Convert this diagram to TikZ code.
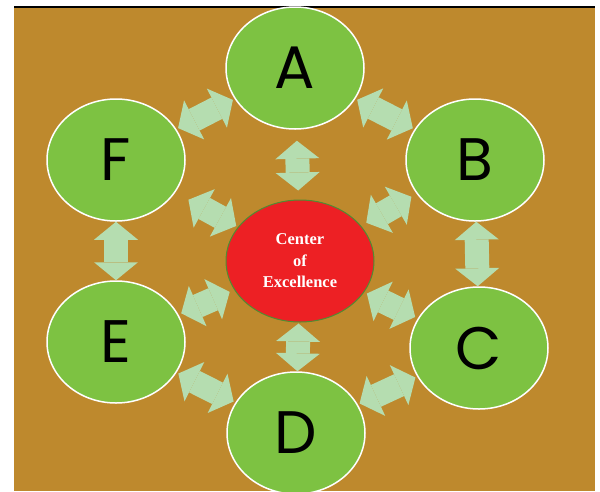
\documentclass[tikz,border=0pt]{standalone}
\usepackage{fontspec}
\setmainfont{Liberation Serif}
\newfontfamily\letterfont{Poppins}
\usetikzlibrary{shapes.geometric,arrows.meta}
\definecolor{bgbrown}{RGB}{190,137,45}
\definecolor{circgreen}{RGB}{125,194,66}
\definecolor{cred}{RGB}{237,32,36}
\definecolor{arrowgreen}{RGB}{181,221,176}
\definecolor{rimgreen}{RGB}{80,140,50}
\begin{document}
\begin{tikzpicture}[x=1pt,y=-1pt,
  outer/.style={ellipse, fill=circgreen, draw=white, line width=1.5pt,
    minimum width=138pt, minimum height=122pt, inner sep=0pt,
    font=\letterfont\fontsize{60}{60}\selectfont},
  core/.style={ellipse, fill=cred, draw=rimgreen, line width=1pt,
    minimum width=148pt, minimum height=122pt, inner sep=0pt,
    text=white, align=center, font=\bfseries\fontsize{16.5}{21.5}\selectfont},
  link/.style={draw=arrowgreen, line width=24pt,
    {Triangle[width=44pt,length=18pt,line width=0pt]}-{Triangle[width=44pt,length=18pt,line width=0pt]}}
]
\useasboundingbox (0,0) rectangle (600,491);
\clip (0,0) rectangle (600,491);
\fill[white] (0,0) rectangle (600,491);
\fill[bgbrown] (14,8) rectangle (595,491);
\draw[black, line width=2pt] (14,7) -- (595,7);

\node[outer] (A) at (295,68) {A};
\node[outer] (B) at (475,160) {B};
\node[outer] (C) at (479,348) {C};
\node[outer] (D) at (296,433) {D};
\node[outer] (E) at (116,342) {E};
\node[outer] (F) at (116,160) {F};
\node[core] (O) at (300,261) {Center\\of\\Excellence};

\draw[link, shorten <=11pt, shorten >=9pt] (A) -- (O);
\draw[link, shorten <=1pt, shorten >=0pt] (O) -- (D);
\draw[link] (F) -- (E);
\draw[link] (B) -- (C);
\draw[link, shorten <=15pt, shorten >=2pt] (F) -- (O);
\draw[link, shorten <=6pt, shorten >=6pt] (O) -- (B);
\draw[link, shorten <=3pt, shorten >=5pt] (E) -- (O);
\draw[link, shorten <=3pt, shorten >=3pt] (O) -- (C);
\draw[link, shorten <=2pt, shorten >=2pt] (F) -- (A);
\draw[link, shorten <=2pt, shorten >=2pt] (A) -- (B);
\draw[link, shorten <=2pt, shorten >=2pt] (E) -- (D);
\draw[link, shorten <=2pt, shorten >=2pt] (C) -- (D);
\end{tikzpicture}
\end{document}
